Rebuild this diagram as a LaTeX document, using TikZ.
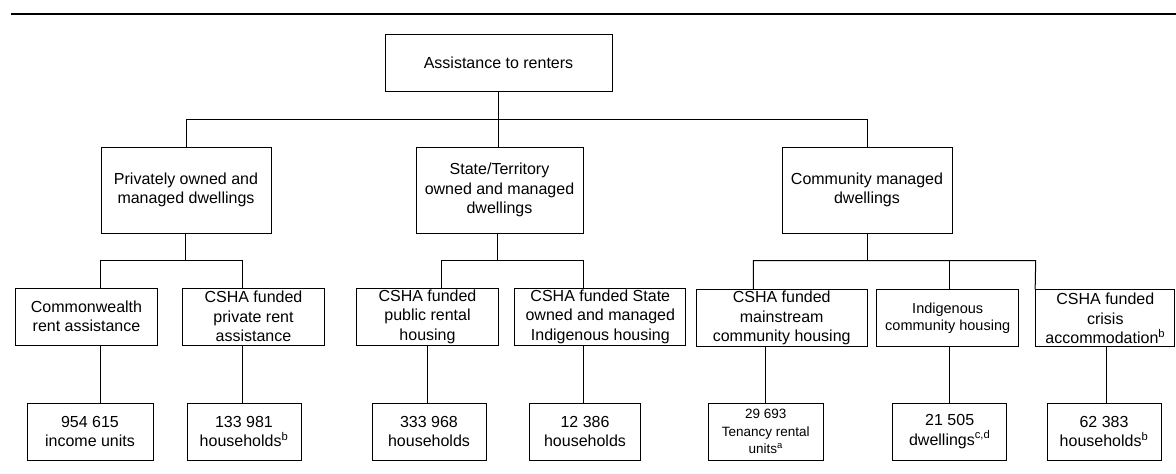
\documentclass[tikz,border=0pt]{standalone}
\usepackage{fontspec}
\setmainfont{Liberation Sans}
\newcommand\fsN{\fontsize{16}{19.5}\selectfont}
\newcommand\fsS{\fontsize{14.5}{17}\selectfont}
\newcommand\fsT{\fontsize{13.5}{17.5}\selectfont}
\begin{document}
\begin{tikzpicture}[x=1pt,y=-1pt,
  box/.style={draw,line width=1pt,inner sep=0pt,align=center,font=\fsN},
  lvA/.style={box,minimum height=86pt},
  lvB/.style={box,minimum height=57pt},
  lvC/.style={box,minimum height=57pt},
  link/.style={line width=1pt}]
\useasboundingbox (0,0) rectangle (1176,474);
% top rule
\coordinate (rl) at (11,14);
\coordinate (rr) at (1176,14);
\draw[line width=2.3pt] (rl) -- (rr);
% top
\node[box,minimum width=227pt,minimum height=57pt] (T) at (498.5,62.5) {Assistance to renters};
% level 1
\node[lvA,minimum width=170pt] (P) at (186,190) {Privately owned and\\managed dwellings};
\node[lvA,minimum width=167pt] (S) at (499.5,190) {State/Territory\\owned and managed\\dwellings};
\node[lvA,minimum width=170pt] (C) at (867,190) {Community managed\\dwellings};
% level 2
\node[lvB,minimum width=141.6pt] (B1) at (86.5,316.5) {Commonwealth\\rent assistance};
\node[lvB,minimum width=141.6pt] (B2) at (253.5,316.5) {CSHA funded\\private rent\\assistance};
\node[lvB,minimum width=141.6pt] (B3) at (427.5,316.5) {CSHA funded\\public rental\\housing};
\node[lvB,minimum width=170.7pt] (B4) at (600.3,316.5) {CSHA funded State\\owned and managed\\Indigenous housing};
\node[lvB,minimum width=171.3pt] (B5) at (781.7,318.3) {CSHA funded\\mainstream\\community housing};
\node[lvB,minimum width=142pt,font=\fsS] (B6) at (947.7,318.3) {Indigenous\\community housing};
\node[lvB,minimum width=139.3pt] (B7) at (1105.3,318.3) {CSHA funded\\crisis\\accommodation\textsuperscript{b}};
% level 3
\node[lvC,minimum width=126pt] (C1) at (90,431.5) {954 615\\income units};
\node[lvC,minimum width=114pt] (C2) at (244,431.5) {133 981\\households\textsuperscript{b}};
\node[lvC,minimum width=114pt] (C3) at (429,431.5) {333 968\\households};
\node[lvC,minimum width=111pt] (C4) at (585,431.5) {12 386\\households};
\node[lvC,minimum width=114.6pt,font=\fsT] (C5) at (765.7,431.5) {29 693\\Tenancy rental\\units\textsuperscript{a}};
\node[lvC,minimum width=114pt] (C6) at (949.7,431.5) {21 505\\dwellings\textsuperscript{c,d}};
\node[lvC,minimum width=114pt] (C7) at (1104,431.5) {62 383\\households\textsuperscript{b}};
% junction coordinates
\coordinate (j1) at (498,119.5);
\coordinate (jP) at (185.7,260.7);
\coordinate (jS) at (497.7,260.7);
\coordinate (jC) at (867,260.7);
\coordinate (x1) at (100.7,0);
\coordinate (x2) at (242.3,0);
\coordinate (x3t) at (441.3,0);
\coordinate (x3) at (427.3,0);
\coordinate (x4) at (583,0);
\coordinate (x5t) at (753.3,0);
\coordinate (x5) at (765.7,0);
\coordinate (x6) at (949.3,0);
\coordinate (x7t) at (1035.7,0);
\coordinate (x7) at (1106.7,0);
% top to level 1
\draw[link] (j1 |- T.south) -- (j1 |- S.north);
\draw[link] (P.north) -- (P.north |- j1) -- (C.north |- j1) -- (C.north);
% level 1 to level 2
\draw[link] (jP |- P.south) -- (jP);
\draw[link] (x1 |- B1.north) -- (x1 |- jP) -- (x2 |- jP) -- (x2 |- B2.north);
\draw[link] (jS |- S.south) -- (jS);
\draw[link] (x3t |- B3.north) -- (x3t |- jS) -- (x4 |- jS) -- (x4 |- B4.north);
\draw[link] (jC |- C.south) -- (jC);
\draw[link] (x5t |- B5.north) -- (x5t |- jC) -- (x7t |- jC) -- (B7.north west);
\draw[link] (x6 |- jC) -- (x6 |- B6.north);
% level 2 to level 3
\draw[link] (x1 |- B1.south) -- (x1 |- C1.north);
\draw[link] (x2 |- B2.south) -- (x2 |- C2.north);
\draw[link] (x3 |- B3.south) -- (x3 |- C3.north);
\draw[link] (x4 |- B4.south) -- (x4 |- C4.north);
\draw[link] (x5 |- B5.south) -- (x5 |- C5.north);
\draw[link] (x6 |- B6.south) -- (x6 |- C6.north);
\draw[link] (x7 |- B7.south) -- (x7 |- C7.north);
\end{tikzpicture}
\end{document}
